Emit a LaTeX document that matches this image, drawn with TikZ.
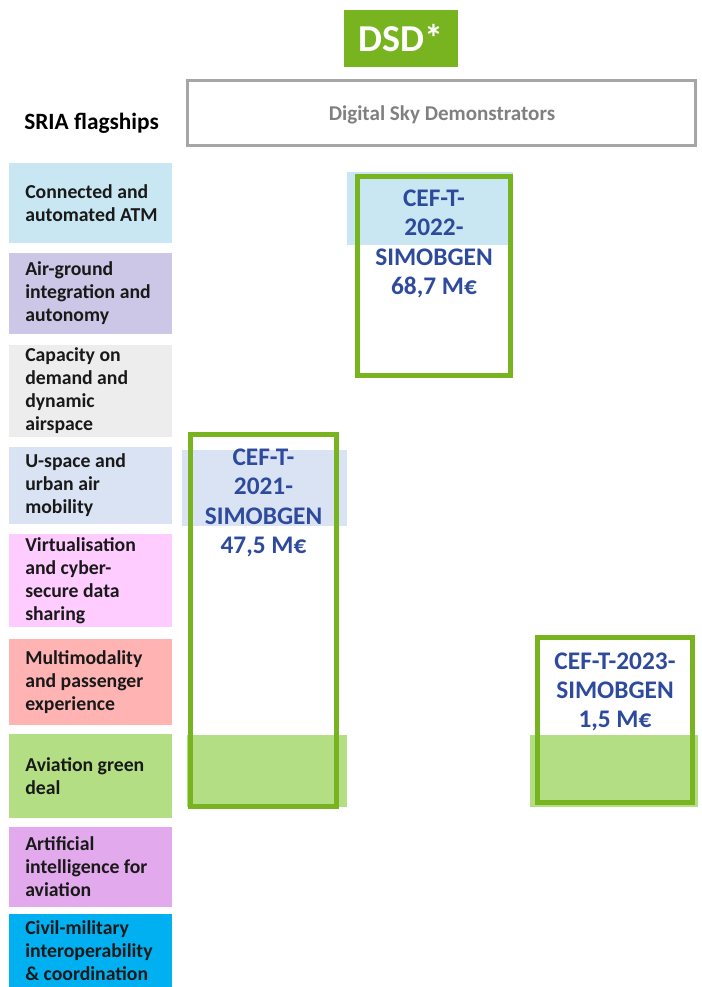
\documentclass[tikz,border=0pt]{standalone}
\usepackage{fontspec}
\setmainfont{Carlito}
\newdimen\pxu \pxu=0.75pt

\definecolor{dsdgreen}{RGB}{119,180,31}
\definecolor{framegray}{RGB}{166,166,166}
\definecolor{titlegray}{RGB}{128,128,128}
\definecolor{cefblue}{RGB}{46,74,156}
\definecolor{fatm}{RGB}{201,231,242}
\definecolor{fair}{RGB}{204,199,230}
\definecolor{fcap}{RGB}{237,237,237}
\definecolor{fusp}{RGB}{218,227,243}
\definecolor{fvir}{RGB}{255,204,255}
\definecolor{fmul}{RGB}{255,179,179}
\definecolor{fgrn}{RGB}{179,222,131}
\definecolor{fart}{RGB}{226,169,236}
\definecolor{fciv}{RGB}{0,176,240}

\tikzset{
  flag/.style={inner sep=0pt, outer sep=0pt, minimum width=163\pxu},
  flaglabel/.style={anchor=west, inner sep=0pt, align=left, xshift=16\pxu,
    font=\fontsize{14.8}{17.2}\selectfont\bfseries, text=black!90},
  band/.style={inner sep=0pt, outer sep=0pt, draw=none},
  callbox/.style={draw=dsdgreen, line width=5\pxu, inner sep=0pt, fill=none},
  calltext/.style={align=center, text=cefblue, inner sep=0pt,
    font=\fontsize{19}{22}\selectfont\bfseries}
}

\begin{document}
\begin{tikzpicture}[x=\pxu, y=-\pxu]
\useasboundingbox (0,0) rectangle (701,987);

% header
\node[fill=dsdgreen, text=white, minimum width=114\pxu, minimum height=57\pxu,
  inner sep=0pt, font=\fontsize{28.5}{33}\selectfont\bfseries] (dsd) at (401,38.5) {DSD*};
\node[draw=framegray, line width=3\pxu, minimum width=508\pxu, minimum height=65\pxu,
  inner sep=0pt] (dsdframe) at (441.5,113) {};
\node[inner sep=0pt, text=titlegray, font=\fontsize{15.8}{18}\selectfont\bfseries]
  (dsdtitle) at (442,115) {Digital Sky Demonstrators};
\node[anchor=west, inner sep=0pt, font=\fontsize{17.5}{20}\selectfont\bfseries]
  (sria) at (24,123) {SRIA flagships};

% flagship column: coloured boxes
\node[flag, fill=fatm, minimum height=80\pxu] (atm) at (90.5,203) {};
\node[flag, fill=fair, minimum height=81\pxu] (air) at (90.5,293.5) {};
\node[flag, fill=fcap, minimum height=92\pxu] (cap) at (90.5,391) {};
\node[flag, fill=fusp, minimum height=77\pxu] (usp) at (90.5,485.5) {};
\node[flag, fill=fvir, minimum height=93\pxu] (vir) at (90.5,580.5) {};
\node[flag, fill=fmul, minimum height=86\pxu] (mul) at (90.5,682) {};
\node[flag, fill=fgrn, minimum height=84\pxu] (grn) at (90.5,776) {};
\node[flag, fill=fart, minimum height=80\pxu] (art) at (90.5,867) {};
\node[flag, fill=fciv, minimum height=74\pxu] (civ) at (90.5,951) {};

% flagship column: labels
\node[flaglabel] (atmtext) at (atm.west) {Connected and\\automated ATM};
\node[flaglabel] (airtext) at (air.west) {Air-ground\\integration and\\autonomy};
\node[flaglabel] (captext) at (cap.west) {Capacity on\\demand and\\dynamic\\airspace};
\node[flaglabel] (usptext) at (usp.west) {U-space and\\urban air\\mobility};
\node[flaglabel] (virtext) at (vir.west) {Virtualisation\\and cyber-\\secure data\\sharing};
\node[flaglabel] (multext) at (mul.west) {Multimodality\\and passenger\\experience};
\node[flaglabel] (grntext) at (grn.west) {Aviation green\\deal};
\node[flaglabel] (arttext) at (art.west) {Artificial\\intelligence for\\aviation};
\node[flaglabel] (civtext) at (civ.west) {Civil-military\\interoperability\\\& coordination};

% row bands behind the calls
\node[band, fill=fatm, minimum width=166\pxu, minimum height=73\pxu] (band22) at (430,208.5) {};
\node[band, fill=fusp, minimum width=165\pxu, minimum height=76\pxu] (band21) at (264.5,488) {};
\node[band, fill=fgrn, minimum width=160\pxu, minimum height=72\pxu] (green21) at (267,771) {};
\node[band, fill=fgrn, minimum width=168\pxu, minimum height=72\pxu] (green23) at (614,771) {};

% calls
\node[callbox, minimum width=153\pxu, minimum height=199\pxu] (call22) at (434,276) {};
\node[callbox, minimum width=146\pxu, minimum height=372\pxu] (call21) at (263.5,620.5) {};
\node[callbox, minimum width=155\pxu, minimum height=165\pxu] (call23) at (615,720) {};

\node[calltext] (txt22) at (434,244) {CEF-T-\\2022-\\SIMOBGEN\\68,7 M€};
\node[calltext] (txt21) at (263.5,503) {CEF-T-\\2021-\\SIMOBGEN\\47,5 M€};
\node[calltext] (txt23) at (615,692) {CEF-T-2023-\\SIMOBGEN\\1,5 M€};
\end{tikzpicture}
\end{document}
